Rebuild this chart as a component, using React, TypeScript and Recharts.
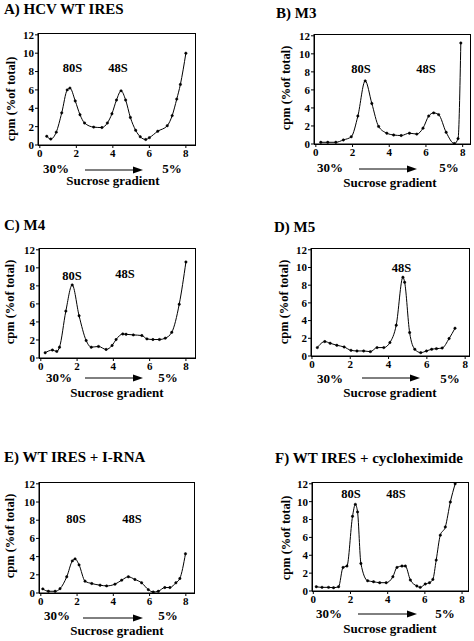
import { LineChart, Line, XAxis, YAxis } from 'recharts';

const FONT = "'Liberation Serif', 'Times New Roman', 'DejaVu Serif', serif";
const X_TICKS = [0, 2, 4, 6, 8];
const Y_TICKS = [0, 2, 4, 6, 8, 10, 12];

// A) HCV WT IRES
const wtFraction = [0.38, 0.6, 0.9, 1.2, 1.5, 1.65, 1.94, 2.2, 2.45, 2.95, 3.4, 3.7, 3.95, 4.2, 4.45, 4.7, 4.96, 5.25, 5.5, 5.8, 6.0, 6.46, 6.98, 7.25, 7.5, 7.7, 8.0];
const wtCpm = [0.95, 0.65, 1.4, 3.5, 6.0, 6.2, 4.8, 3.3, 2.4, 1.95, 1.9, 2.4, 3.4, 4.9, 5.9, 4.9, 3.0, 1.6, 0.9, 0.6, 0.8, 1.5, 2.1, 3.2, 5.0, 6.6, 10.0];

// B) M3
const m3Fraction = [0.27, 0.65, 1.09, 1.5, 1.93, 2.29, 2.69, 3.05, 3.42, 3.87, 4.24, 4.65, 5.1, 5.5, 5.84, 6.15, 6.42, 6.69, 7.1, 7.55, 7.75, 7.9];
const m3Cpm = [0.19, 0.19, 0.19, 0.45, 0.8, 3.1, 7.0, 4.5, 1.95, 1.2, 1.0, 0.94, 1.2, 1.1, 1.76, 3.1, 3.45, 3.26, 1.3, 0.05, 0.6, 11.2];

// C) M4
const m4Fraction = [0.24, 0.64, 0.88, 1.03, 1.38, 1.73, 2.11, 2.5, 2.78, 3.18, 3.6, 3.93, 4.15, 4.52, 4.7, 5.1, 5.57, 5.85, 6.18, 6.54, 6.86, 7.22, 7.63, 8.0];
const m4Cpm = [0.58, 0.88, 0.73, 1.2, 5.2, 8.1, 4.68, 1.94, 1.2, 1.28, 0.95, 1.39, 2.05, 2.67, 2.63, 2.56, 2.49, 2.12, 2.05, 2.05, 2.2, 2.85, 5.96, 10.65];

// D) M5
const m5Fraction = [0.28, 0.67, 0.95, 1.3, 1.68, 2.04, 2.35, 2.7, 3.05, 3.4, 3.75, 4.07, 4.4, 4.75, 4.84, 5.1, 5.37, 5.68, 5.98, 6.25, 6.5, 6.8, 7.16, 7.47];
const m5Cpm = [0.95, 1.63, 1.44, 1.21, 1.02, 0.64, 0.57, 0.57, 0.49, 0.95, 0.95, 1.52, 3.48, 8.9, 8.33, 2.65, 0.76, 0.38, 0.57, 0.76, 0.83, 0.9, 1.97, 3.14];

// E) WT IRES + I-RNA
const irnaFraction = [0.11, 0.42, 0.79, 1.06, 1.43, 1.74, 1.89, 2.11, 2.44, 2.81, 3.27, 3.63, 4.09, 4.46, 4.83, 5.19, 5.56, 5.93, 6.2, 6.48, 6.84, 7.12, 7.45, 7.67, 7.98];
const irnaCpm = [0.45, 0.19, 0.19, 0.48, 1.78, 3.53, 3.75, 3.09, 1.3, 1.04, 0.86, 0.78, 0.97, 1.41, 1.78, 1.49, 1.12, 0.37, 0.11, 0.19, 0.6, 0.6, 1.12, 1.6, 4.31];

// F) WT IRES + cycloheximide
const chxFraction = [0.16, 0.47, 0.82, 1.09, 1.36, 1.6, 1.81, 2.11, 2.26, 2.38, 2.56, 2.92, 3.24, 3.57, 3.92, 4.28, 4.5, 4.77, 4.95, 5.22, 5.57, 5.75, 6.02, 6.25, 6.43, 6.61, 6.83, 7.1, 7.37, 7.63];
const chxCpm = [0.48, 0.41, 0.41, 0.37, 0.48, 2.64, 2.79, 8.36, 9.7, 8.85, 3.08, 1.15, 1.04, 0.93, 0.93, 1.6, 2.64, 2.79, 2.79, 1.23, 0.56, 0.41, 0.78, 0.93, 1.3, 3.46, 6.25, 7.17, 9.96, 12.0];

const rows = (xs: number[], ys: number[]) => xs.map((x, i) => ({ x, y: ys[i] }));

type Label = { t: string; x: number; y: number };
type Panel = {
  title: string; tx: number; ty: number;
  box: [number, number, number, number];
  xDomain: [number, number];
  data: { x: number; y: number }[];
  ylab: [number, number];
  peaks: Label[];
  p30: [number, number]; arrow: [number, number, number]; p5: [number, number];
  suc: [number, number];
};

const panels: Panel[] = [
  {
    title: 'A) HCV WT IRES', tx: 4, ty: 14, box: [38, 33, 195, 145], xDomain: [-0.1, 8.5],
    data: rows(wtFraction, wtCpm), ylab: [11, 99],
    peaks: [{ t: '80S', x: 72.5, y: 72 }, { t: '48S', x: 118, y: 72 }],
    p30: [56, 173], arrow: [85, 143, 170], p5: [172, 173], suc: [113, 185],
  },
  {
    title: 'B) M3', tx: 276, ty: 18, box: [314, 34, 470, 144], xDomain: [-0.1, 8.4],
    data: rows(m3Fraction, m3Cpm), ylab: [286, 88],
    peaks: [{ t: '80S', x: 361, y: 73 }, { t: '48S', x: 426, y: 73 }],
    p30: [330, 172], arrow: [359, 417, 169], p5: [449, 172], suc: [390, 187],
  },
  {
    title: 'C) M4', tx: 4, ty: 230, box: [39, 248, 195, 358], xDomain: [-0.1, 8.5],
    data: rows(m4Fraction, m4Cpm), ylab: [10, 302],
    peaks: [{ t: '80S', x: 72, y: 280 }, { t: '48S', x: 125, y: 278 }],
    p30: [59, 382], arrow: [85, 143, 378], p5: [168, 382], suc: [117, 397],
  },
  {
    title: 'D) M5', tx: 274, ty: 232, box: [311, 248, 469, 356], xDomain: [-0.05, 8.2],
    data: rows(m5Fraction, m5Cpm), ylab: [284, 302],
    peaks: [{ t: '48S', x: 401.5, y: 272 }],
    p30: [330, 383], arrow: [362, 420, 378], p5: [450, 383], suc: [390, 397],
  },
  {
    title: 'E) WT IRES + I-RNA', tx: 4, ty: 462, box: [39, 482, 194, 593], xDomain: [-0.1, 8.45],
    data: rows(irnaFraction, irnaCpm), ylab: [10, 536],
    peaks: [{ t: '80S', x: 76, y: 523 }, { t: '48S', x: 132, y: 523 }],
    p30: [57, 620], arrow: [83, 143, 618], p5: [168, 620], suc: [117, 635],
  },
  {
    title: 'F) WT IRES + cycloheximide', tx: 275, ty: 463, box: [312, 482, 468, 591], xDomain: [-0.07, 8.32],
    data: rows(chxFraction, chxCpm), ylab: [286, 538],
    peaks: [{ t: '80S', x: 351, y: 498 }, { t: '48S', x: 396, y: 498 }],
    p30: [329, 618], arrow: [358, 417, 614], p5: [445, 618], suc: [390, 633],
  },
];

const YW = 26;
const MT = 6;
const XH = 20;
const tickStyle = { fill: '#000', fontSize: 11, fontWeight: 'bold', style: { fontFamily: FONT } };

function Profile({ p }: { p: Panel }) {
  const [L, T, R, B] = p.box;
  return (
    <div style={{ position: 'absolute', left: L - YW, top: T - MT }}>
      <LineChart
        width={R - L + YW}
        height={B - T + MT + XH}
        data={p.data}
        margin={{ top: MT, right: 0, left: 0, bottom: 0 }}
        style={{ fontFamily: FONT }}
      >
        <XAxis
          type="number" dataKey="x" domain={p.xDomain} ticks={X_TICKS} allowDataOverflow
          height={XH} tickSize={3} tickMargin={1} stroke="#000" tick={tickStyle}
        />
        <YAxis
          type="number" domain={[0, 12.2]} ticks={Y_TICKS} allowDataOverflow
          width={YW} tickSize={3} tickMargin={1} stroke="#000" tick={tickStyle}
        />
        <Line
          dataKey="y" type="monotone" stroke="#000" strokeWidth={1}
          dot={{ r: 1.2, fill: '#000', stroke: '#000', strokeWidth: 0.5 }}
          isAnimationActive={false}
        />
      </LineChart>
    </div>
  );
}

const txt = { fontFamily: FONT, fontWeight: 'bold' as const };

function Overlay() {
  return (
    <svg width={474} height={641} style={{ position: 'absolute', left: 0, top: 0, pointerEvents: 'none' }}>
      {panels.map((p, i) => {
        const [L, T, R, B] = p.box;
        const [ax1, ax2, ay] = p.arrow;
        return (
          <g key={i} fill="#000">
            <rect x={L + 0.5} y={T + 0.5} width={R - L} height={B - T} fill="none" stroke="#000" />
            <text x={p.tx} y={p.ty} fontSize={15} style={txt}>{p.title}</text>
            <text x={p.ylab[0]} y={p.ylab[1]} fontSize={12.5} textAnchor="middle" dominantBaseline="central"
              style={txt} transform={`rotate(-90 ${p.ylab[0]} ${p.ylab[1]})`}>cpm (%of total)</text>
            {p.peaks.map((k) => (
              <text key={k.t} x={k.x} y={k.y} fontSize={12.5} textAnchor="middle" style={txt}>{k.t}</text>
            ))}
            <text x={p.p30[0]} y={p.p30[1]} fontSize={13} textAnchor="middle" style={txt}>30%</text>
            <line x1={ax1} y1={ay} x2={ax2 - 8} y2={ay} stroke="#000" strokeWidth={1} />
            <polygon points={`${ax2},${ay} ${ax2 - 10},${ay - 3.5} ${ax2 - 10},${ay + 3.5}`} />
            <text x={p.p5[0]} y={p.p5[1]} fontSize={13} textAnchor="middle" style={txt}>5%</text>
            <text x={p.suc[0]} y={p.suc[1]} fontSize={13} textAnchor="middle" style={txt}>Sucrose gradient</text>
          </g>
        );
      })}
    </svg>
  );
}

export default function App() {
  return (
    <div style={{ position: 'absolute', left: 0, top: 0, width: 474, height: 641, background: '#fff', fontFamily: FONT }}>
      {panels.map((p, i) => <Profile key={i} p={p} />)}
      <Overlay />
    </div>
  );
}
